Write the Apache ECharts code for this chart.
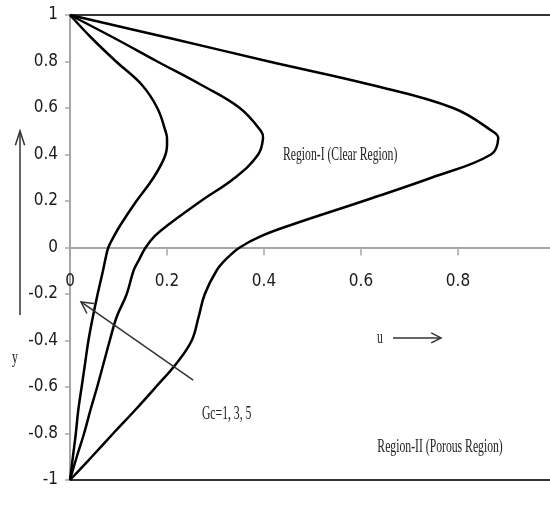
<!DOCTYPE html>
<html><head><meta charset="utf-8">
<script src="https://cdn.jsdelivr.net/npm/echarts@6/dist/echarts.min.js"></script>
<style>html,body{margin:0;padding:0;background:#fff}#c{width:550px;height:505px}</style>
</head><body><div id="c"></div>
<script>
// y levels shared by all three velocity profiles
const yLevels = [1, 0.9, 0.8, 0.7, 0.6, 0.5, 0.47, 0.4, 0.3, 0.2, 0.1, 0.05, 0, -0.05, -0.1, -0.2, -0.3, -0.4, -0.5, -0.6, -0.7, -0.8, -0.9, -1];
// u values for Gc = 1, 3, 5
const uGc1 = [0, 0.045, 0.095, 0.148, 0.18, 0.197, 0.2, 0.197, 0.172, 0.137, 0.105, 0.091, 0.079, 0.073, 0.068, 0.057, 0.047, 0.038, 0.031, 0.024, 0.017, 0.012, 0.006, 0];
const uGc3 = [0, 0.092, 0.18, 0.27, 0.35, 0.394, 0.398, 0.388, 0.34, 0.27, 0.204, 0.175, 0.156, 0.143, 0.131, 0.117, 0.096, 0.082, 0.069, 0.056, 0.042, 0.029, 0.014, 0];
const uGc5 = [0, 0.207, 0.41, 0.62, 0.79, 0.871, 0.883, 0.868, 0.745, 0.605, 0.46, 0.395, 0.35, 0.322, 0.302, 0.278, 0.265, 0.251, 0.219, 0.177, 0.134, 0.089, 0.045, 0];
// tick labels
const xTickLabels = ['0', '0.2', '0.4', '0.6', '0.8'];
const yTickLabels = ['-1', '-0.8', '-0.6', '-0.4', '-0.2', '0', '0.2', '0.4', '0.6', '0.8', '1'];

function pairs(u) { return u.map((v, i) => [v, yLevels[i]]); }
function fmt(labels) {
  return function (v) {
    const s = String(Math.round(v * 10) / 10);
    return labels.indexOf(s) >= 0 ? s : '';
  };
}

const W = 550, H = 505, gridTop = 15, gridBottom = 25;
const yMin = -1, yMax = 1;
const plotH = H - gridTop - gridBottom;
const zeroOffset = -plotH * (0 - yMin) / (yMax - yMin);

const chart = echarts.init(document.getElementById('c'), null, { renderer: 'canvas' });
const labelFont = { fontFamily: '"Liberation Sans Narrow", "DejaVu Sans Condensed", Roboto, sans-serif', fontSize: 17, color: '#1a1a1a' };

// smooth curve drawn through the data points via the axes' own coordinate mapping
const curveSeries = (name, u) => ({
  name, type: 'custom', coordinateSystem: 'cartesian2d', xAxisIndex: 0, yAxisIndex: 0,
  data: pairs(u), encode: { x: 0, y: 1 }, clip: false, z: 5,
  renderItem: function (params, api) {
    if (params.dataIndex !== 0) return null;
    const pts = [];
    for (let i = 0; i < params.dataInsideLength || i < u.length; i++) {
      if (i >= u.length) break;
      pts.push(api.coord([api.value(0, i), api.value(1, i)]));
    }
    return {
      type: 'polyline',
      shape: { points: pts, smooth: 0.4 },
      style: { stroke: '#000', lineWidth: 2.5, fill: null, lineJoin: 'round' }
    };
  }
});

chart.setOption({
  animation: false,
  backgroundColor: '#fff',
  grid: { left: 70, right: -5, top: gridTop, bottom: gridBottom, containLabel: false, outerBoundsMode: 'none' },
  xAxis: [
    {
      type: 'value', min: 0, max: 1, interval: 0.2, position: 'bottom', offset: zeroOffset,
      axisLine: { onZero: false, lineStyle: { color: '#a6a6a6', width: 2 } },
      axisTick: { show: true, length: 8, lineStyle: { color: '#a6a6a6', width: 1.5 } },
      axisLabel: Object.assign({ margin: 26, showMaxLabel: false, formatter: fmt(xTickLabels) }, labelFont),
      splitLine: { show: false }
    },
    {
      type: 'value', min: 0, max: 1, position: 'top',
      axisLine: { onZero: false, lineStyle: { color: '#333', width: 2 } },
      axisTick: { show: false }, axisLabel: { show: false }, splitLine: { show: false }
    },
    {
      type: 'value', min: 0, max: 1, position: 'bottom', offset: 0,
      axisLine: { onZero: false, lineStyle: { color: '#333', width: 2 } },
      axisTick: { show: false }, axisLabel: { show: false }, splitLine: { show: false }
    }
  ],
  yAxis: {
    type: 'value', min: yMin, max: yMax, interval: 0.2,
    axisLine: { show: true, onZero: false, lineStyle: { color: '#a6a6a6', width: 2 } },
    axisTick: { show: true, length: 5, lineStyle: { color: '#a6a6a6', width: 1.5 } },
    axisLabel: Object.assign({ margin: 12, formatter: fmt(yTickLabels) }, labelFont),
    splitLine: { show: false }
  },
  series: [curveSeries('Gc=1', uGc1), curveSeries('Gc=3', uGc3), curveSeries('Gc=5', uGc5)]
});

// annotations
const px = (u, y) => chart.convertToPixel({ gridIndex: 0 }, [u, y]);
function head(tip, from, len, angDeg) {
  const dx = from[0] - tip[0], dy = from[1] - tip[1];
  const d = Math.hypot(dx, dy), ux = dx / d, uy = dy / d;
  const a = angDeg * Math.PI / 180, c = Math.cos(a), s = Math.sin(a);
  return [
    [tip[0] + len * (ux * c - uy * s), tip[1] + len * (ux * s + uy * c)],
    tip,
    [tip[0] + len * (ux * c + uy * s), tip[1] + len * (-ux * s + uy * c)]
  ];
}
const serif = '18px "Liberation Serif", "DejaVu Serif", serif';
function txt(p, t, align) {
  return {
    type: 'text', x: p[0], y: p[1], scaleX: 0.65, z: 10,
    style: { text: t, font: serif, fill: '#222', textAlign: align || 'center', textVerticalAlign: 'middle', align: align || 'center', verticalAlign: 'middle' }
  };
}
const stroke = { stroke: '#333', lineWidth: 1.5, fill: null };

const gTail = px(0.254, -0.57), gTip = px(0.0227, -0.234);
const uFrom = px(0.666, -0.389), uTo = px(0.765, -0.389);
const yFrom = [20, 315], yTo = [20, 131];

chart.setOption({
  graphic: [
    txt(px(0.557, 0.398), 'Region-I (Clear Region)'),
    txt(px(0.763, -0.858), 'Region-II (Porous Region)'),
    txt(px(0.272, -0.716), 'Gc=1, 3, 5', 'left'),
    txt(px(0.639, -0.389), 'u'),
    txt([15, 358], 'y'),
    { type: 'line', shape: { x1: gTail[0], y1: gTail[1], x2: gTip[0], y2: gTip[1] }, style: stroke, z: 10 },
    { type: 'polyline', shape: { points: head(gTip, gTail, 13, 28) }, style: stroke, z: 10 },
    { type: 'line', shape: { x1: uFrom[0], y1: uFrom[1], x2: uTo[0], y2: uTo[1] }, style: stroke, z: 10 },
    { type: 'polyline', shape: { points: head(uTo, uFrom, 11, 27) }, style: stroke, z: 10 },
    { type: 'line', shape: { x1: yFrom[0], y1: yFrom[1], x2: yTo[0], y2: yTo[1] }, style: stroke, z: 10 },
    { type: 'polyline', shape: { points: head(yTo, yFrom, 15, 18) }, style: stroke, z: 10 }
  ]
});
</script></body></html>
